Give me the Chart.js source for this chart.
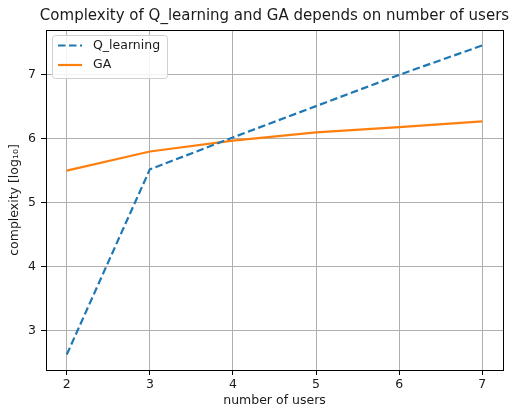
<!DOCTYPE html>
<html><head><meta charset="utf-8">
<script src="https://cdn.jsdelivr.net/npm/chart.js@4/dist/chart.umd.min.js"></script>
<style>html,body{margin:0;padding:0;background:#fff}canvas{display:block}</style>
</head><body>
<canvas id="c" width="515" height="408"></canvas>
<script>
const users = [2, 3, 4, 5, 6, 7];
const qLearning = [2.62, 5.52, 6.02, 6.51, 7.00, 7.46];
const ga = [5.50, 5.80, 5.97, 6.10, 6.18, 6.27];
const xTicks = [2, 3, 4, 5, 6, 7];
const yTicks = [3, 4, 5, 6, 7];
const seriesNames = ['Q_learning', 'GA'];
const titleText = 'Complexity of Q_learning and GA depends on number of users';
const xLabel = 'number of users';
const yLabel = 'complexity [log\u2081\u2080]';

const FONT = 'DejaVu Sans';
const TXT = '#1a1a1a';
const FS = 12.5;

const framePlugin = {
  id: 'frame',
  afterDraw(chart) {
    const ctx = chart.ctx, a = chart.chartArea;
    ctx.save();
    ctx.strokeStyle = '#000';
    ctx.lineWidth = 1;
    const l = Math.round(a.left) + 0.5, r = Math.round(a.right) + 0.5;
    const t = Math.round(a.top) + 0.5, b = Math.round(a.bottom) + 0.5;
    ctx.strokeRect(l, t, r - l, b - t);
    // title
    ctx.fillStyle = TXT;
    ctx.font = '15px "' + FONT + '"';
    ctx.textAlign = 'center';
    ctx.textBaseline = 'middle';
    ctx.fillText(titleText, (a.left + a.right) / 2, 16.5);
    // legend
    const bx = 52.5, by = 35.5, bw = 115, bh = 43;
    ctx.beginPath();
    if (ctx.roundRect) ctx.roundRect(bx, by, bw, bh, 3); else ctx.rect(bx, by, bw, bh);
    ctx.fillStyle = 'rgba(255,255,255,0.85)';
    ctx.fill();
    ctx.strokeStyle = '#d0d0d0';
    ctx.lineWidth = 1;
    ctx.stroke();
    const rows = [45.5, 65];
    chart.data.datasets.forEach((ds, i) => {
      const y = rows[i];
      ctx.beginPath();
      ctx.strokeStyle = ds.borderColor;
      ctx.lineWidth = ds.borderWidth;
      ctx.setLineDash(ds.borderDash || []);
      ctx.moveTo(58, y);
      ctx.lineTo(82, y);
      ctx.stroke();
      ctx.setLineDash([]);
      ctx.fillStyle = TXT;
      ctx.font = FS + 'px "' + FONT + '"';
      ctx.textAlign = 'left';
      ctx.textBaseline = 'middle';
      ctx.fillText(ds.label, 93, y);
    });
    ctx.restore();
  }
};

new Chart(document.getElementById('c'), {
  type: 'line',
  data: {
    datasets: [
      {
        label: seriesNames[0],
        data: users.map((u, i) => ({ x: u, y: qLearning[i] })),
        borderColor: '#1f77b4',
        borderWidth: 2.2,
        borderDash: [7.5, 3.5],
        pointRadius: 0,
        tension: 0,
        fill: false
      },
      {
        label: seriesNames[1],
        data: users.map((u, i) => ({ x: u, y: ga[i] })),
        borderColor: '#ff7f0e',
        borderWidth: 2.2,
        pointRadius: 0,
        tension: 0,
        fill: false
      }
    ]
  },
  options: {
    responsive: false,
    devicePixelRatio: 1,
    animation: false,
    layout: { padding: { top: 30, right: 12, bottom: 0, left: 0 } },
    plugins: { legend: { display: false }, title: { display: false }, tooltip: { enabled: false } },
    scales: {
      x: {
        type: 'linear',
        min: 1.75,
        max: 7.25,
        afterBuildTicks: s => { s.ticks = xTicks.map(v => ({ value: v })); },
        afterFit: s => { s.height = 38; },
        ticks: { color: TXT, font: { family: FONT, size: FS }, padding: 2, maxRotation: 0, autoSkip: false },
        grid: { color: '#b0b0b0', lineWidth: 1, tickColor: '#000', tickLength: 5 },
        border: { display: false },
        title: { display: true, text: xLabel, color: TXT, font: { family: FONT, size: FS }, padding: { top: 0, bottom: 0 } }
      },
      y: {
        type: 'linear',
        min: 2.378,
        max: 7.702,
        afterBuildTicks: s => { s.ticks = yTicks.map(v => ({ value: v })); },
        afterFit: s => { s.width = 46; },
        ticks: { color: TXT, font: { family: FONT, size: FS }, padding: 5, autoSkip: false },
        grid: { color: '#b0b0b0', lineWidth: 1, tickColor: '#000', tickLength: 5 },
        border: { display: false },
        title: { display: true, text: yLabel, color: TXT, font: { family: FONT, size: FS }, padding: { top: 7, bottom: 0 } }
      }
    }
  },
  plugins: [framePlugin]
});
</script>
</body></html>
